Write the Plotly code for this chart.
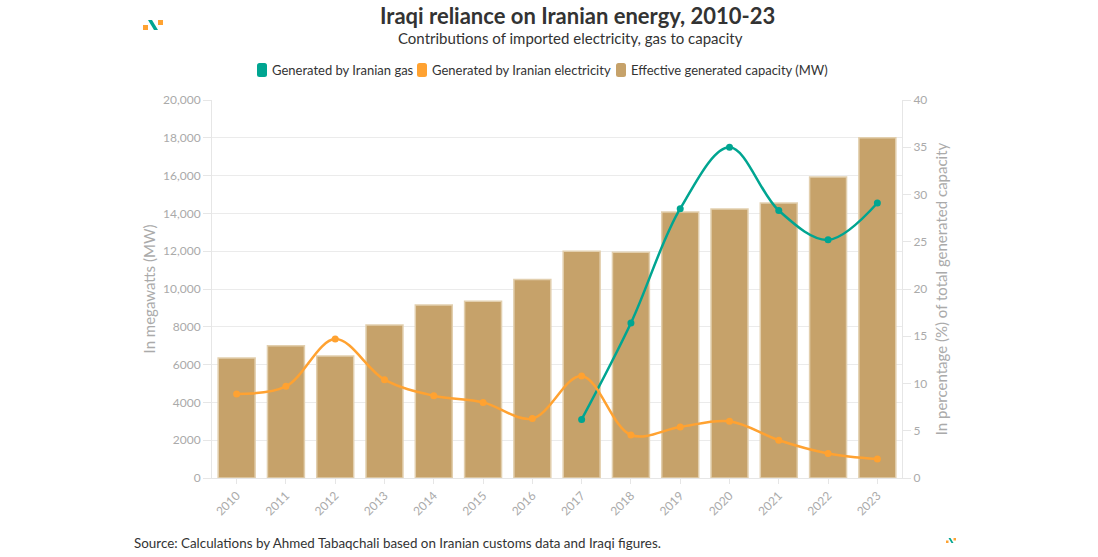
import plotly.graph_objects as go

years = [str(y) for y in range(2010, 2024)]
capacity_mw = [6350, 7000, 6450, 8100, 9150, 9350, 10500, 12000, 11950, 14070, 14230, 14550, 15930, 18000]
elec_pct = [8.9, 9.7, 14.7, 10.4, 8.7, 8.0, 6.3, 10.8, 4.55, 5.4, 6.0, 4.0, 2.6, 2.0]
gas_years = years[7:]
gas_pct = [6.2, 16.4, 28.5, 35.0, 28.3, 25.2, 29.1]

GREEN = "#00A591"
ORANGE = "#FFA231"
BAR = "#C6A26A"
GREY = "#AAAAAA"
FONT = "Lato"

# plot area pixels
L, R, T, B = 212, 902, 100, 478
def px(x): return (x - L) / (R - L)
def py(y): return (B - y) / (B - T)

fig = go.Figure()
fig.add_trace(go.Scatter(
    x=gas_years, y=gas_pct, name="Generated by Iranian gas", yaxis="y2", showlegend=False,
    mode="lines+markers", line=dict(color=GREEN, width=2.5, shape="spline", smoothing=1.0),
    marker=dict(size=7, color=GREEN)))
fig.add_trace(go.Scatter(
    x=years, y=elec_pct, name="Generated by Iranian electricity", yaxis="y2", showlegend=False,
    mode="lines+markers", line=dict(color=ORANGE, width=2.5, shape="spline", smoothing=1.0),
    marker=dict(size=7, color=ORANGE)))
fig.add_trace(go.Bar(
    x=years, y=capacity_mw, name="Effective generated capacity (MW)", showlegend=False,
    marker=dict(color=BAR, line=dict(color="#E2CFAE", width=1.5))))

fig.update_layout(
    width=1098, height=557,
    margin=dict(l=L, r=1098 - R, t=T, b=557 - B, autoexpand=False),
    paper_bgcolor="white", plot_bgcolor="white",
    font=dict(family=FONT, color="#333"),
    bargap=0.25,
    showlegend=False,
    xaxis=dict(type="category", categoryorder="array", categoryarray=years,
               tickangle=-45, tickfont=dict(size=12, color=GREY),
               showgrid=False, showline=True, linecolor="#E6E6E6", ticks="outside",
               ticklen=5, tickcolor="#E6E6E6", range=[-0.5, 13.5]),
    yaxis=dict(range=[0, 20000], tickvals=list(range(0, 20001, 2000)),
               ticktext=["0", "2000", "4000", "6000", "8000", "10,000", "12,000", "14,000", "16,000", "18,000", "20,000"],
               tickfont=dict(size=12, color=GREY), gridcolor="#EBEBEB",
               showline=True, linecolor="#E6E6E6", ticks="outside", ticklen=8, tickcolor="#E6E6E6",
               zeroline=False,
               title=dict(text="In megawatts (MW)", font=dict(size=15, color=GREY), standoff=3)),
    yaxis2=dict(range=[0, 40], tickvals=list(range(0, 41, 5)), overlaying="y", side="right",
                tickfont=dict(size=12, color=GREY), showgrid=False,
                showline=True, linecolor="#E6E6E6", ticks="outside", ticklen=8, tickcolor="#E6E6E6",
                zeroline=False,
                title=dict(text="In percentage (%) of total generated capacity", font=dict(size=15, color=GREY), standoff=10)),
)

fig.add_annotation(text="<b>Iraqi reliance on Iranian energy, 2010-23</b>", xref="paper", yref="paper",
                   x=px(577), y=py(16), yanchor="middle", showarrow=False,
                   font=dict(size=22, color="#333"))
fig.add_annotation(text="Contributions of imported electricity, gas to capacity", xref="paper", yref="paper",
                   x=px(570), y=py(38), yanchor="middle", showarrow=False,
                   font=dict(size=15, color="#333"))
fig.add_annotation(text="Source: Calculations by Ahmed Tabaqchali based on Iranian customs data and Iraqi figures.",
                   xref="paper", yref="paper", x=px(132), xanchor="left",
                   y=py(543), yanchor="middle", showarrow=False,
                   font=dict(size=13.4, color="#333"))

shapes = []

# manual legend with rounded swatches
legend_items = [("Generated by Iranian gas", GREEN, 257),
                ("Generated by Iranian electricity", ORANGE, 417),
                ("Effective generated capacity (MW)", BAR, 616)]
for name, col, x0 in legend_items:
    w, h, r = 10, 14, 2.5
    y0 = 63
    x1, y1 = x0 + w, y0 + h
    path = (f"M {px(x0 + r)} {py(y0)} L {px(x1 - r)} {py(y0)} Q {px(x1)} {py(y0)} {px(x1)} {py(y0 + r)} "
            f"L {px(x1)} {py(y1 - r)} Q {px(x1)} {py(y1)} {px(x1 - r)} {py(y1)} "
            f"L {px(x0 + r)} {py(y1)} Q {px(x0)} {py(y1)} {px(x0)} {py(y1 - r)} "
            f"L {px(x0)} {py(y0 + r)} Q {px(x0)} {py(y0)} {px(x0 + r)} {py(y0)} Z")
    shapes.append(dict(type="path", xref="paper", yref="paper", path=path, fillcolor=col, line=dict(width=0)))
    fig.add_annotation(text=name, xref="paper", yref="paper", x=px(x0 + 13), xanchor="left",
                       y=py(70), yanchor="middle", showarrow=False, font=dict(size=13, color="#333"))

def logo(x0, y0, s):
    out = []
    out.append(dict(type="rect", xref="paper", yref="paper", x0=px(x0), x1=px(x0 + 5 * s),
                    y0=py(y0 + 10 * s), y1=py(y0 + 5 * s), fillcolor=ORANGE, line=dict(width=0)))
    out.append(dict(type="rect", xref="paper", yref="paper", x0=px(x0 + 15 * s), x1=px(x0 + 20 * s),
                    y0=py(y0 + 5 * s), y1=py(y0), fillcolor=ORANGE, line=dict(width=0)))
    out.append(dict(type="path", xref="paper", yref="paper",
                    path=f"M {px(x0 + 5 * s)} {py(y0)} L {px(x0 + 9 * s)} {py(y0)} "
                         f"L {px(x0 + 15 * s)} {py(y0 + 10 * s)} L {px(x0 + 11 * s)} {py(y0 + 10 * s)} Z",
                    fillcolor=GREEN, line=dict(width=0)))
    return out

shapes += logo(143, 20, 1.0) + logo(946, 538, 0.5)
fig.update_layout(shapes=shapes)

fig.write_html("out.html")
